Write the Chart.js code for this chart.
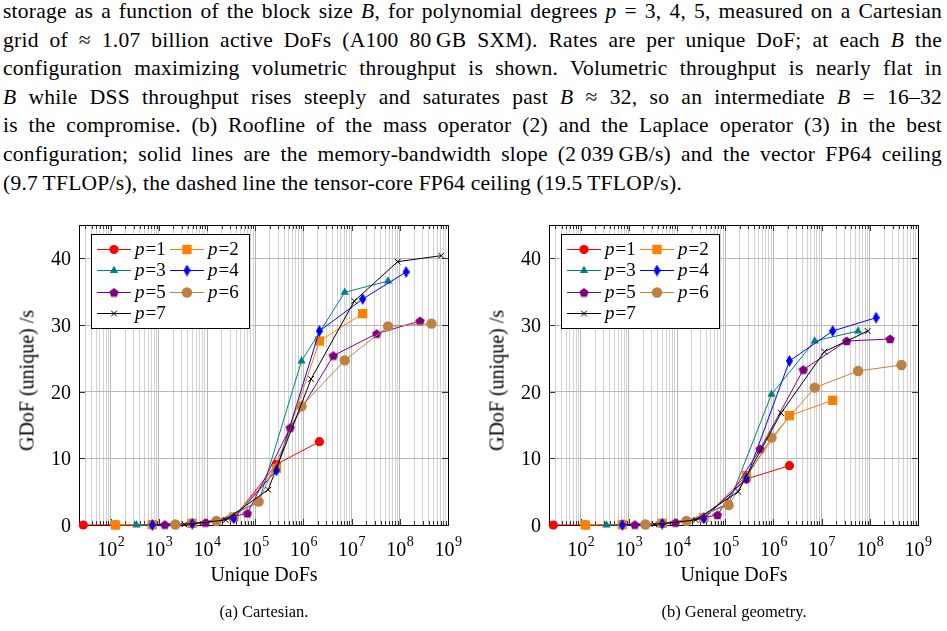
<!DOCTYPE html>
<html>
<head>
<meta charset="utf-8">
<script src="https://cdn.jsdelivr.net/npm/chart.js@4.4.0/dist/chart.umd.min.js"></script>
<style>
  body { margin: 0; background: #fff; width: 947px; height: 631px; overflow: hidden; position: relative;
         font-family: "Liberation Serif", "DejaVu Serif", serif; color: #000; }
  #cap { position: absolute; left: 3px; top: -3px; width: 939px; font-size: 21.5px; line-height: 28.6px;
         letter-spacing: 0.25px; }
  #cap div { text-align: justify; text-align-last: justify; }
  #cap div.last { text-align-last: left; }
  canvas { position: absolute; top: 200px; }
  .lbl { position: absolute; font-size: 20px; white-space: nowrap; text-align: center; }
  .sub { position: absolute; font-size: 16.5px; white-space: nowrap; text-align: center; }
  .ytitle { position: absolute; font-size: 20px; white-space: nowrap; width: 220px; text-align: center;
            transform: rotate(-90deg); }
</style>
</head>
<body>
<div id="cap">
  <div>storage as a function of the block size <i>B</i>, for polynomial degrees <i>p</i> = 3, 4, 5, measured on a Cartesian</div>
  <div>grid of ≈ 1.07 billion active DoFs (A100 80&#8201;GB SXM). Rates are per unique DoF; at each <i>B</i> the</div>
  <div>configuration maximizing volumetric throughput is shown. Volumetric throughput is nearly flat in</div>
  <div><i>B</i> while DSS throughput rises steeply and saturates past <i>B</i> ≈ 32, so an intermediate <i>B</i> = 16–32</div>
  <div>is the compromise. (b) Roofline of the mass operator (2) and the Laplace operator (3) in the best</div>
  <div>configuration; solid lines are the memory-bandwidth slope (2&#8201;039&#8201;GB/s) and the vector FP64 ceiling</div>
  <div class="last">(9.7&#8201;TFLOP/s), the dashed line the tensor-core FP64 ceiling (19.5&#8201;TFLOP/s).</div>
</div>

<canvas id="cart" width="470" height="431" style="left:0px"></canvas>
<canvas id="geom" width="477" height="431" style="left:470px"></canvas>

<div class="ytitle" style="left:-83px; top:369px">GDoF (unique) /s</div>
<div class="ytitle" style="left:387px; top:369px">GDoF (unique) /s</div>
<div class="lbl" style="left:164px; width:200px; top:563px">Unique DoFs</div>
<div class="lbl" style="left:634px; width:200px; top:563px">Unique DoFs</div>
<div class="sub" style="left:164px; width:200px; top:602px">(a) Cartesian.</div>
<div class="sub" style="left:634px; width:200px; top:602px">(b) General geometry.</div>

<script>
// unique DoFs per mesh level, one array per degree
const dofsP1 = [27, 125, 729, 4913, 35937, 274625, 2146689];
const dofsP2 = [125, 729, 4913, 35937, 274625, 2146689, 16974593];
const dofsP3 = [343, 2197, 15625, 117649, 912673, 7189057, 57066625];
const dofsP4 = [729, 4913, 35937, 274625, 2146689, 16974593, 135005697];
const dofsP5 = [1331, 9261, 68921, 531441, 4173281, 33076161, 263374721];
const dofsP6 = [2197, 15625, 117649, 912673, 7189057, 57066625, 454756609];
const dofsP7 = [3375, 24389, 185193, 1442897, 11390625, 90518849, 721734273];

// (a) Cartesian, GDoF/s
const cartP1 = [0, 0.01, 0.03, 0.2, 1.1, 9.1, 12.5];
const cartP2 = [0, 0.05, 0.25, 1.2, 8.5, 27.6, 31.7];
const cartP3 = [0, 0.15, 0.5, 3.4, 24.6, 34.9, 36.6];
const cartP4 = [0.02, 0.2, 1.0, 8.2, 29.1, 33.9, 37.95];
const cartP5 = [0.05, 0.35, 1.75, 14.6, 25.4, 28.7, 30.6];
const cartP6 = [0.08, 0.6, 3.5, 17.8, 24.7, 29.8, 30.2];
const cartP7 = [0.1, 0.75, 5.3, 21.9, 33.6, 39.5, 40.4];

// (b) General geometry, GDoF/s
const geomP1 = [0, 0.01, 0.03, 0.2, 1.0, 6.9, 8.9];
const geomP2 = [0, 0.05, 0.25, 1.1, 7.4, 16.4, 18.7];
const geomP3 = [0, 0.15, 0.5, 3.2, 19.6, 27.6, 29.1];
const geomP4 = [0.02, 0.2, 1.0, 7.0, 24.6, 29.1, 31.1];
const geomP5 = [0.05, 0.35, 1.5, 11.4, 23.3, 27.6, 27.9];
const geomP6 = [0.08, 0.6, 3.0, 13.1, 20.6, 23.1, 24.0];
const geomP7 = [0.1, 0.75, 5.0, 16.8, 26.0, 29.1];

const degreeLabels = ['1', '2', '3', '4', '5', '6', '7'];
const xMajorExps = [2, 3, 4, 5, 6, 7, 8, 9];
const yTicks = [0, 10, 20, 30, 40];
const xMin = 22, xMax = 1e9, yMin = 0, yMax = 45;

const colors = ['#ff0000', '#ff8000', '#008080', '#0000ff', '#800080', '#bf8040', '#000000'];

function markerCanvas(w, h, color, pts) {
  const c = document.createElement('canvas');
  c.width = w; c.height = h;
  const g = c.getContext('2d');
  g.fillStyle = color;
  g.beginPath();
  pts.forEach(([x, y], i) => i ? g.lineTo(x, y) : g.moveTo(x, y));
  g.closePath();
  g.fill();
  return c;
}
const diamond = markerCanvas(7, 12, '#0000ff', [[3.5, 0], [7, 6], [3.5, 12], [0, 6]]);
const pentagon = (() => {
  const pts = [];
  for (let k = 0; k < 5; k++) {
    const a = -Math.PI / 2 + k * 2 * Math.PI / 5;
    pts.push([5 + 4.9 * Math.cos(a), 5.4 + 4.9 * Math.sin(a)]);
  }
  return markerCanvas(10, 10, '#800080', pts);
})();

const markers = [
  { pointStyle: 'circle', pointRadius: 4.6, pointBorderWidth: 0 },
  { pointStyle: 'rect', pointRadius: 6.6, pointBorderWidth: 0 },
  { pointStyle: 'triangle', pointRadius: 4.8, pointBorderWidth: 0 },
  { pointStyle: diamond, pointRadius: 5, pointBorderWidth: 0 },
  { pointStyle: pentagon, pointRadius: 5, pointBorderWidth: 0 },
  { pointStyle: 'circle', pointRadius: 5.2, pointBorderWidth: 0 },
  { pointStyle: 'crossRot', pointRadius: 4, pointBorderWidth: 1 },
];

// grid positions on the log axis: k * 10^n
const xGrid = [];
for (let e = 1; e < 9; e++) {
  for (let k = 1; k < 10; k++) {
    const v = k * Math.pow(10, e);
    if (v >= xMin && v <= xMax) xGrid.push({ value: v, major: k === 1 });
  }
}
xGrid.push({ value: 1e9, major: true });

function dataset(i, xs, ys) {
  return {
    label: 'p=' + degreeLabels[i],
    data: ys.map((y, j) => ({ x: xs[j], y })),
    borderColor: colors[i],
    backgroundColor: colors[i],
    pointBackgroundColor: colors[i],
    pointBorderColor: colors[i],
    borderWidth: 1,
    tension: 0,
    fill: false,
    clip: false,
    order: 7 - i,
    ...markers[i],
  };
}

function drawTicksAndFrame(chart) {
  const { ctx, chartArea: a } = chart;
  const xs = chart.scales.x, ys = chart.scales.y;
  ctx.save();
  ctx.strokeStyle = '#333';
  ctx.lineWidth = 1;
  ctx.beginPath();
  xGrid.forEach(t => {
    const px = Math.round(xs.getPixelForValue(t.value)) + 0.5;
    const len = t.major ? 6 : 4;
    ctx.moveTo(px, a.bottom); ctx.lineTo(px, a.bottom - len);
    ctx.moveTo(px, a.top); ctx.lineTo(px, a.top + len);
  });
  yTicks.forEach(v => {
    const py = Math.round(ys.getPixelForValue(v)) + 0.5;
    ctx.moveTo(a.left, py); ctx.lineTo(a.left + 6, py);
    ctx.moveTo(a.right, py); ctx.lineTo(a.right - 6, py);
  });
  ctx.stroke();
  ctx.strokeStyle = '#000';
  ctx.strokeRect(Math.round(a.left) + 0.5, Math.round(a.top) + 0.5,
                 Math.round(a.right - a.left), Math.round(a.bottom - a.top));

  // tick labels
  ctx.fillStyle = '#000';
  ctx.textBaseline = 'alphabetic';
  ctx.textAlign = 'right';
  ctx.font = '20px "Liberation Serif"';
  yTicks.forEach(v => {
    ctx.fillText(String(v), a.left - 8, ys.getPixelForValue(v) + 7);
  });
  ctx.textAlign = 'left';
  xMajorExps.forEach(e => {
    const px = xs.getPixelForValue(Math.pow(10, e));
    ctx.font = '20px "Liberation Serif"';
    const w1 = ctx.measureText('10').width;
    ctx.font = '14px "Liberation Serif"';
    const w2 = ctx.measureText(String(e)).width;
    const x0 = px - (w1 + w2) / 2;
    ctx.font = '20px "Liberation Serif"';
    ctx.fillText('10', x0, a.bottom + 31);
    ctx.font = '14px "Liberation Serif"';
    ctx.fillText(String(e), x0 + w1 + 0.5, a.bottom + 21);
  });
  ctx.restore();
}

function drawLegend(chart) {
  const { ctx, chartArea: a } = chart;
  const bx = Math.round(a.left) + 12.5, by = Math.round(a.top) + 9.5;
  ctx.save();
  ctx.fillStyle = '#fff';
  ctx.strokeStyle = '#000';
  ctx.lineWidth = 1;
  ctx.fillRect(bx, by, 158, 94);
  ctx.strokeRect(bx, by, 158, 94);
  chart.data.datasets.forEach((ds, i) => {
    const col = i % 2, row = Math.floor(i / 2);
    const x0 = a.left + 18 + col * 73;
    const y = a.top + 24 + row * 21.3;
    ctx.strokeStyle = ds.borderColor;
    ctx.lineWidth = 1;
    ctx.beginPath();
    ctx.moveTo(x0, Math.round(y) + 0.5);
    ctx.lineTo(x0 + 34, Math.round(y) + 0.5);
    ctx.stroke();
    ctx.fillStyle = ds.pointBackgroundColor;
    ctx.strokeStyle = ds.pointBorderColor;
    ctx.lineWidth = ds.pointBorderWidth;
    Chart.helpers.drawPoint(ctx, {
      pointStyle: ds.pointStyle, radius: ds.pointRadius,
      borderWidth: ds.pointBorderWidth, rotation: 0,
    }, x0 + 17, Math.round(y) + 0.5);
    ctx.fillStyle = '#000';
    ctx.textAlign = 'left';
    ctx.textBaseline = 'alphabetic';
    ctx.font = 'italic 19px "Liberation Serif"';
    ctx.fillText('p', x0 + 38, y + 6);
    const wp = ctx.measureText('p').width;
    ctx.font = '19px "Liberation Serif"';
    ctx.fillText('=' + ds.label.slice(2), x0 + 38 + wp + 1, y + 6);
  });
  ctx.restore();
}

const figurePlugin = {
  id: 'figure',
  beforeDatasetsDraw: drawTicksAndFrame,
  afterDatasetsDraw: drawLegend,
};

function makeChart(id, series, rightPad) {
  const xsList = [dofsP1, dofsP2, dofsP3, dofsP4, dofsP5, dofsP6, dofsP7];
  return new Chart(document.getElementById(id), {
    type: 'line',
    data: { datasets: series.map((ys, i) => dataset(i, xsList[i], ys)) },
    options: {
      responsive: false,
      animation: false,
      devicePixelRatio: 1,
      layout: { padding: { left: 79, top: 25, right: rightPad, bottom: 106 } },
      plugins: { legend: { display: false }, tooltip: { enabled: false } },
      scales: {
        x: {
          type: 'logarithmic', min: xMin, max: xMax,
          afterBuildTicks: s => { s.ticks = xGrid.map(t => ({ ...t })); },
          ticks: { display: false },
          grid: {
            drawTicks: false,
            lineWidth: 1,
            color: c => (c.tick && c.tick.major ? '#b8b8b8' : '#d2d2d2'),
          },
          border: { display: false },
        },
        y: {
          min: yMin, max: yMax,
          afterBuildTicks: s => { s.ticks = yTicks.map(v => ({ value: v })); },
          ticks: { display: false },
          grid: { drawTicks: false, lineWidth: 1, color: '#b8b8b8' },
          border: { display: false },
        },
      },
    },
    plugins: [figurePlugin],
  });
}

makeChart('cart', [cartP1, cartP2, cartP3, cartP4, cartP5, cartP6, cartP7], 22);
makeChart('geom', [geomP1, geomP2, geomP3, geomP4, geomP5, geomP6, geomP7], 29);
</script>
</body>
</html>
